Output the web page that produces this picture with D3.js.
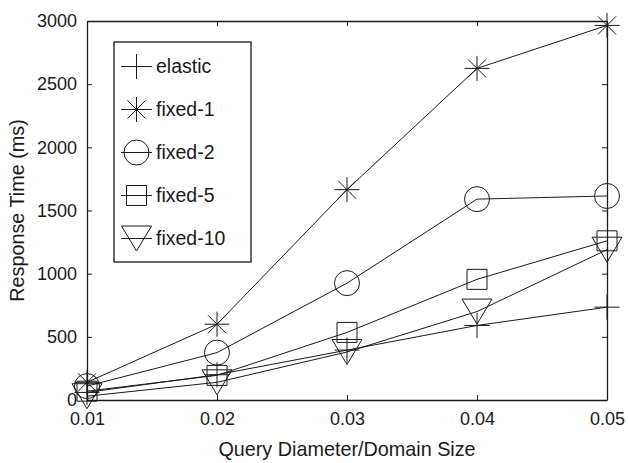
<!DOCTYPE html>
<html>
<head>
<meta charset="UTF-8">
<title>Response Time</title>
<script src="https://d3js.org/d3.v7.min.js"></script>
<style>
  body { margin: 0; background: #fff; }
  svg text { font-family: "Liberation Sans", Arial, Helvetica, sans-serif; fill: #1a1a1a; }
</style>
</head>
<body>
<svg id="chart" width="628" height="463"></svg>
<script>
const xValues = [0.01, 0.02, 0.03, 0.04, 0.05];
const seriesNames = ["elastic", "fixed-1", "fixed-2", "fixed-5", "fixed-10"];
const elastic = [60, 200, 395, 590, 735];
const fixed1 = [140, 600, 1665, 2625, 2965];
const fixed2 = [110, 375, 925, 1590, 1615];
const fixed5 = [70, 195, 535, 955, 1260];
const fixed10 = [30, 140, 380, 700, 1190];
const xTicks = [0.01, 0.02, 0.03, 0.04, 0.05];
const yTicks = [0, 500, 1000, 1500, 2000, 2500, 3000];

const width = 628, height = 463;
const margin = {top: 21, right: 21, bottom: 63, left: 87};

const svg = d3.select("#chart");
const x = d3.scaleLinear().domain([0.01, 0.05]).range([margin.left, width - margin.right]);
const y = d3.scaleLinear().domain([0, 3000]).range([height - margin.bottom, margin.top]);

// marker shapes, size = half-width in px
const plus = {draw(c, r) { c.moveTo(-r, 0); c.lineTo(r, 0); c.moveTo(0, -r); c.lineTo(0, r); }};
const star = {draw(c, r) {
  c.moveTo(-r, 0); c.lineTo(r, 0); c.moveTo(0, -r); c.lineTo(0, r);
  const d = r * 0.72;
  c.moveTo(-d, -d); c.lineTo(d, d); c.moveTo(-d, d); c.lineTo(d, -d);
}};
const circ = {draw(c, r) { c.moveTo(r, 0); c.arc(0, 0, r, 0, 2 * Math.PI); }};
const square = {draw(c, r) { c.rect(-r, -r, 2 * r, 2 * r); }};
const triDown = {draw(c, r) {
  c.moveTo(-r * 1.2, -r); c.lineTo(r * 1.2, -r); c.lineTo(0, r); c.closePath();
}};

const series = [
  {name: seriesNames[0], values: elastic, shape: plus, size: 12.5},
  {name: seriesNames[1], values: fixed1, shape: star, size: 12.5},
  {name: seriesNames[2], values: fixed2, shape: circ, size: 12.5},
  {name: seriesNames[3], values: fixed5, shape: square, size: 10},
  {name: seriesNames[4], values: fixed10, shape: triDown, size: 12.5}
];

const sym = (s) => d3.symbol().type(s.shape).size(s.size)();

// axes (inward ticks on all four sides)
const tickLen = 5;
svg.append("g")
  .attr("transform", `translate(0,${y(0)})`)
  .call(d3.axisBottom(x).tickValues(xTicks).tickFormat(d3.format(".2f")).tickSizeInner(-tickLen).tickSizeOuter(0).tickPadding(12))
  .call(g => g.selectAll("text").attr("font-size", 18));
svg.append("g")
  .attr("transform", `translate(0,${y(3000)})`)
  .call(d3.axisTop(x).tickValues(xTicks).tickFormat("").tickSizeInner(-tickLen).tickSizeOuter(0));
svg.append("g")
  .attr("transform", `translate(${x(0.01)},0)`)
  .call(d3.axisLeft(y).tickValues(yTicks).tickFormat(d3.format("d")).tickSizeInner(-tickLen).tickSizeOuter(0).tickPadding(10))
  .call(g => g.selectAll("text").attr("font-size", 18));
svg.append("g")
  .attr("transform", `translate(${x(0.05)},0)`)
  .call(d3.axisRight(y).tickValues(yTicks).tickFormat("").tickSizeInner(-tickLen).tickSizeOuter(0));
svg.selectAll(".domain").attr("stroke", "#1a1a1a").attr("stroke-width", 1.3);
svg.selectAll(".tick line").attr("stroke", "#1a1a1a");

// lines
const line = d3.line().x((d, i) => x(xValues[i])).y(d => y(d));
svg.append("g").selectAll("path")
  .data(series)
  .join("path")
  .attr("d", s => line(s.values))
  .attr("fill", "none")
  .attr("stroke", "#1a1a1a")
  .attr("stroke-width", 1);

// markers
series.forEach(s => {
  svg.append("g").selectAll("path")
    .data(s.values)
    .join("path")
    .attr("transform", (d, i) => `translate(${x(xValues[i])},${y(d)})`)
    .attr("d", sym(s))
    .attr("fill", "none")
    .attr("stroke", "#1a1a1a")
    .attr("stroke-width", 1);
});

// legend
const lg = svg.append("g").attr("transform", "translate(114,42)");
lg.append("rect").attr("width", 137).attr("height", 220)
  .attr("fill", "#fff").attr("stroke", "#1a1a1a").attr("stroke-width", 1.3);
const items = lg.selectAll("g.item").data(series).join("g")
  .attr("class", "item")
  .attr("transform", (d, i) => `translate(0,${24.5 + i * 43})`);
items.append("line").attr("x1", 7).attr("x2", 38).attr("stroke", "#1a1a1a");
items.append("path").attr("transform", "translate(22.5,0)").attr("d", sym)
  .attr("fill", "none").attr("stroke", "#1a1a1a");
items.append("text").attr("x", 42).attr("dy", "0.35em").attr("font-size", 19.5).text(d => d.name);

// axis titles
svg.append("text").attr("x", (x(0.01) + x(0.05)) / 2).attr("y", 456)
  .attr("text-anchor", "middle").attr("font-size", 19.8).text("Query Diameter/Domain Size");
svg.append("text").attr("transform", `translate(24,${(y(0) + y(3000)) / 2}) rotate(-90)`)
  .attr("text-anchor", "middle").attr("font-size", 19.8).text("Response Time (ms)");
</script>
</body>
</html>
